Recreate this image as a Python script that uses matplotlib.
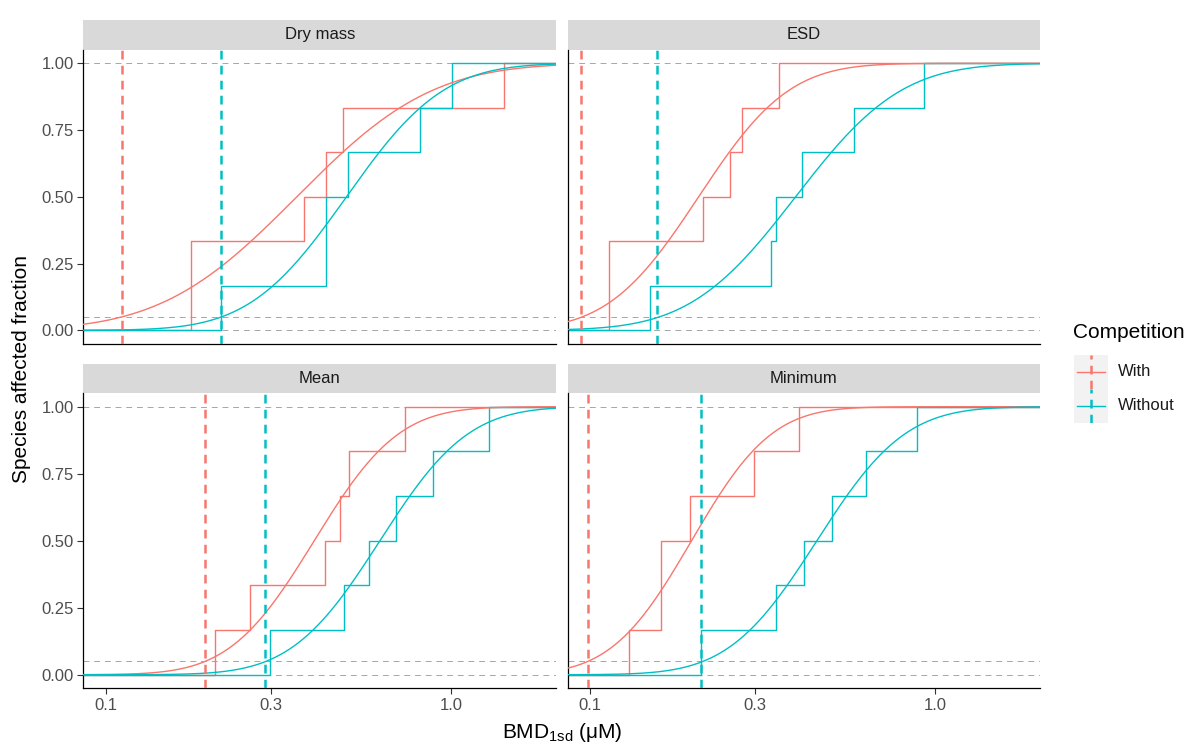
import math

import matplotlib
matplotlib.use("Agg")
import matplotlib.pyplot as plt
import numpy as np

plt.rcParams["font.family"] = ["Liberation Sans", "DejaVu Sans"]
plt.rcParams["mathtext.default"] = "regular"

W, H = 1191, 744
RED = "#F8766D"
TEAL = "#00BFC4"

panel_names = ["Dry mass", "ESD", "Mean", "Minimum"]
group_names = ["With", "Without"]

# species BMD1sd values (uM) (6 species each)
dry_mass_with = [0.177, 0.177, 0.374, 0.435, 0.486, 1.42]
dry_mass_without = [0.216, 0.435, 0.435, 0.503, 0.810, 1.005]
esd_with = [0.114, 0.114, 0.213, 0.255, 0.275, 0.352]
esd_without = [0.149, 0.335, 0.346, 0.411, 0.580, 0.927]
mean_with = [0.207, 0.262, 0.430, 0.475, 0.506, 0.733]
mean_without = [0.298, 0.489, 0.578, 0.689, 0.885, 1.286]
minimum_with = [0.130, 0.161, 0.161, 0.195, 0.298, 0.402]
minimum_without = [0.210, 0.346, 0.416, 0.503, 0.631, 0.887]

# HC5 (dashed vertical lines)
hc5_with = [0.1115, 0.0943, 0.194, 0.099]
hc5_without = [0.216, 0.157, 0.288, 0.210]

# fitted log-normal curves: median (uM) and sd of log10
fit_median_with = [0.357, 0.2065, 0.401, 0.197]
fit_sdlog10_with = [0.308, 0.205, 0.1915, 0.182]
fit_median_without = [0.497, 0.394, 0.621, 0.454]
fit_sdlog10_without = [0.22, 0.24, 0.20, 0.20]

x_ticks = [0.1, 0.3, 1.0]
x_ticklabels = ["0.1", "0.3", "1.0"]
y_ticks = [0.0, 0.25, 0.5, 0.75, 1.0]
y_ticklabels = ["0.00", "0.25", "0.50", "0.75", "1.00"]
ref_levels = [0.0, 0.05, 1.0]

XLIM = (0.0862, 2.01)
YLIM = (-0.05, 1.05)

species_with = [dry_mass_with, esd_with, mean_with, minimum_with]
species_without = [dry_mass_without, esd_without, mean_without, minimum_without]

erf = np.vectorize(math.erf)


def lnorm_cdf(x, median, sd10):
    z = (np.log10(x) - np.log10(median)) / sd10
    return 0.5 * (1 + erf(z / math.sqrt(2)))


def rect(x0, y0, x1, y1):
    return [x0 / W, 1 - y1 / H, (x1 - x0) / W, (y1 - y0) / H]


fig = plt.figure(figsize=(W / 100, H / 100), dpi=100)

cols = [(83.4, 556.3), (567.5, 1040.2)]
rows = [(20.0, 49.95, 343.65), (363.5, 393.3, 688.1)]

xgrid = np.logspace(np.log10(XLIM[0]), np.log10(XLIM[1]), 300)

for i, name in enumerate(panel_names):
    r, c = divmod(i, 2)
    x0, x1 = cols[c]
    s0, p0, p1 = rows[r]

    # strip
    sax = fig.add_axes(rect(x0, s0, x1, p0))
    sax.set_facecolor("#D9D9D9")
    sax.set_xticks([]); sax.set_yticks([])
    for sp in sax.spines.values():
        sp.set_visible(False)
    sax.text(0.5, 0.5, name, ha="center", va="center", fontsize=12, color="#1A1A1A",
             transform=sax.transAxes)

    ax = fig.add_axes(rect(x0, p0, x1, p1))
    ax.set_xscale("log")
    ax.set_xlim(*XLIM); ax.set_ylim(*YLIM)

    for lv in ref_levels:
        ax.axhline(lv, color="#A6A6A6", lw=0.7, ls=(0, (6, 5)), zorder=1)

    for vals, med, sd, hc5, col in [
        (species_with[i], fit_median_with[i], fit_sdlog10_with[i], hc5_with[i], RED),
        (species_without[i], fit_median_without[i], fit_sdlog10_without[i], hc5_without[i], TEAL),
    ]:
        v = np.sort(np.array(vals))
        n = len(v)
        xs = np.concatenate([[XLIM[0]], v, [XLIM[1]]])
        ys = np.concatenate([[0.0], np.arange(1, n + 1) / n, [1.0]])
        ax.step(xs, ys, where="post", color=col, lw=1.0, zorder=2)
        ax.plot(xgrid, lnorm_cdf(xgrid, med, sd), color=col, lw=1.0, zorder=3)
        ax.axvline(hc5, color=col, lw=1.8, ls=(0, (3.5, 2.5)), zorder=4)

    for side in ["top", "right"]:
        ax.spines[side].set_visible(False)
    for side in ["left", "bottom"]:
        ax.spines[side].set_linewidth(0.9)
    ax.minorticks_off()
    ax.tick_params(length=4, width=0.8, color="#333333", labelsize=12,
                   labelcolor="#4D4D4D", pad=3)
    ax.set_xticks(x_ticks)
    ax.set_yticks(y_ticks)
    if r == 1:
        ax.set_xticklabels(x_ticklabels)
    else:
        ax.set_xticklabels([])
        ax.tick_params(axis="x", length=0)
    if c == 0:
        ax.set_yticklabels(y_ticklabels)
    else:
        ax.set_yticklabels([])
        ax.tick_params(axis="y", length=0)

fig.text(22 / W, 1 - 369 / H, "Species affected fraction", rotation=90,
         ha="center", va="center", fontsize=15)
fig.text(561.8 / W, 1 - 732 / H, r"BMD$_{1sd}$ (μM)", ha="center", va="center",
         fontsize=15)

# legend
fig.text(1073 / W, 1 - 333 / H, "Competition", ha="left", va="center", fontsize=15)
for k, (label, col) in enumerate(zip(group_names, [RED, TEAL])):
    ky0 = 354.5 + k * 34.3
    kax = fig.add_axes(rect(1074, ky0, 1108, ky0 + 34.3))
    kax.set_facecolor("#F2F2F2")
    kax.set_xlim(0, 1); kax.set_ylim(0, 1)
    kax.set_xticks([]); kax.set_yticks([])
    for sp in kax.spines.values():
        sp.set_visible(False)
    kax.axhline(0.5, xmin=0.1, xmax=0.9, color=col, lw=1.0)
    kax.axvline(0.5, color=col, lw=1.8, ls=(0, (3.5, 2.5)))
    fig.text(1118 / W, 1 - (ky0 + 17) / H, label, ha="left", va="center", fontsize=12,
             color="#1A1A1A")

fig.savefig("out.png", dpi=100)
